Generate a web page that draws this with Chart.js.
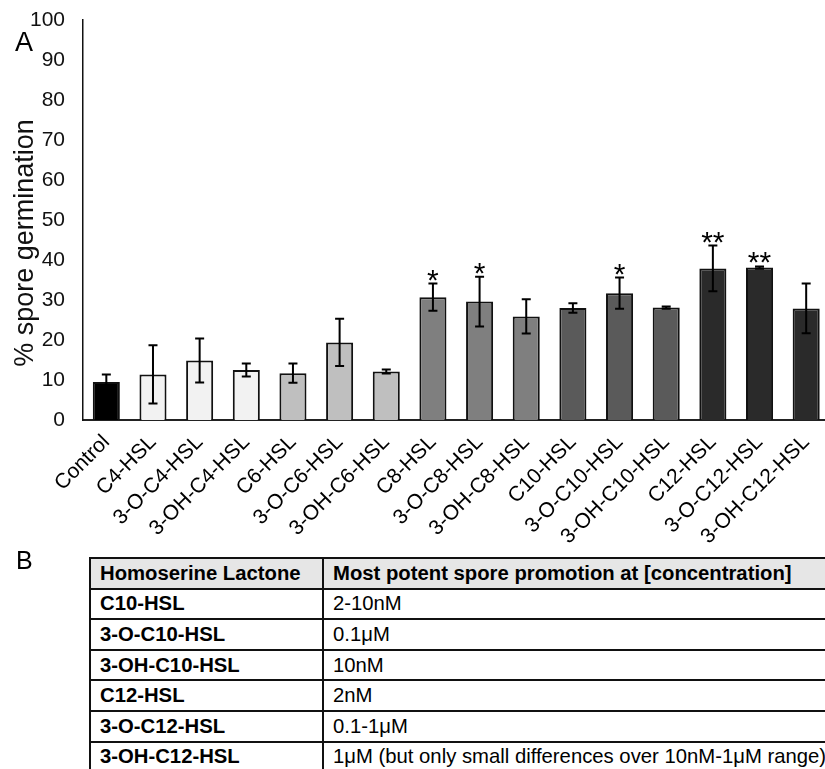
<!DOCTYPE html>
<html>
<head>
<meta charset="utf-8">
<script src="https://cdn.jsdelivr.net/npm/chart.js@4.4.1/dist/chart.umd.min.js"></script>
<style>
  html, body { margin: 0; padding: 0; background: #fff; overflow: hidden; width: 825px; height: 769px; }
  body { position: relative; font-family: "Liberation Sans", Arial, sans-serif; color: #000; }
  #wrap { position: absolute; left: 0; top: 0; width: 834px; height: 545px; }
  .panel { position: absolute; font-size: 27px; line-height: 1; }
  #lblA { left: 15px; top: 29px; }
  #lblB { left: 16px; top: 548px; font-size: 25px; }
  table { position: absolute; left: 89px; top: 557px; width: 780px; table-layout: fixed; border-collapse: collapse; font-size: 20.3px; }
  td { border: 2px solid #111; height: 28.6px; padding: 0 0 0 9px; white-space: nowrap; overflow: visible; }
  td.c1 { width: 222px; font-weight: bold; }
  tr.head td { background: #e6e6e6; font-weight: bold; }
</style>
</head>
<body>
<div id="wrap"><canvas id="chart"></canvas></div>
<div class="panel" id="lblA">A</div>
<div class="panel" id="lblB">B</div>
<table id="tbl"></table>
<script>
const labels = ['Control', 'C4-HSL', '3-O-C4-HSL', '3-OH-C4-HSL', 'C6-HSL', '3-O-C6-HSL', '3-OH-C6-HSL',
  'C8-HSL', '3-O-C8-HSL', '3-OH-C8-HSL', 'C10-HSL', '3-O-C10-HSL', '3-OH-C10-HSL',
  'C12-HSL', '3-O-C12-HSL', '3-OH-C12-HSL'];
const means = [9.5, 11.4, 14.9, 12.5, 11.7, 19.4, 12.1, 30.7, 29.6, 25.9, 28.0, 31.7, 28.1, 37.9, 38.1, 27.9];
const errs = [1.9, 7.3, 5.5, 1.6, 2.4, 5.9, 0.5, 3.4, 6.2, 4.3, 1.2, 3.9, 0.3, 5.7, 0.3, 6.2];
const stars = ['', '', '', '', '', '', '', '*', '*', '', '', '*', '', '**', '**', ''];
const yTicks = [0, 10, 20, 30, 40, 50, 60, 70, 80, 90, 100];
const yTitle = '% spore germination';

const tableHead = ['Homoserine Lactone', 'Most potent spore promotion at [concentration]'];
const tableLactones = ['C10-HSL', '3-O-C10-HSL', '3-OH-C10-HSL', 'C12-HSL', '3-O-C12-HSL', '3-OH-C12-HSL'];
const tableConc = ['2-10nM', '0.1μM', '10nM', '2nM', '0.1-1μM', '1μM (but only small differences over 10nM-1μM range)'];

// fill shade per group of chain length
const shades = ['#000000', '#f2f2f2', '#f2f2f2', '#f2f2f2', '#bfbfbf', '#bfbfbf', '#bfbfbf',
  '#7f7f7f', '#7f7f7f', '#7f7f7f', '#5a5a5a', '#5a5a5a', '#5a5a5a', '#2a2a2a', '#2a2a2a', '#2a2a2a'];

const font = '"Liberation Sans", Arial, sans-serif';

const errorBars = {
  id: 'errorBars',
  afterDatasetsDraw(chart) {
    const ctx = chart.ctx;
    const y = chart.scales.y;
    const meta = chart.getDatasetMeta(0);
    ctx.save();
    ctx.strokeStyle = '#000';
    ctx.lineWidth = 2;
    meta.data.forEach((bar, i) => {
      const top = y.getPixelForValue(means[i] + errs[i]);
      const bot = y.getPixelForValue(means[i] - errs[i]);
      ctx.beginPath();
      ctx.moveTo(bar.x, top); ctx.lineTo(bar.x, bot);
      ctx.moveTo(bar.x - 4.5, top); ctx.lineTo(bar.x + 4.5, top);
      ctx.moveTo(bar.x - 4.5, bot); ctx.lineTo(bar.x + 4.5, bot);
      ctx.stroke();
      if (stars[i]) {
        ctx.fillStyle = '#000';
        ctx.font = '30px ' + font;
        ctx.textAlign = 'center';
        ctx.textBaseline = 'alphabetic';
        ctx.fillText(stars[i], bar.x, top + 6);
      }
    });
    // y axis title, sits a bit below the middle of the axis like the original
    const area = chart.chartArea;
    ctx.translate(26, (area.top + area.bottom) / 2 + 23);
    ctx.rotate(-Math.PI / 2);
    ctx.fillStyle = '#111';
    ctx.font = '27px ' + font;
    ctx.textAlign = 'center';
    ctx.textBaseline = 'middle';
    ctx.fillText(yTitle, 0, 0);
    ctx.restore();
  }
};

new Chart(document.getElementById('chart'), {
  type: 'bar',
  data: {
    labels: labels,
    datasets: [{
      data: means,
      backgroundColor: shades,
      borderColor: '#111',
      borderWidth: 2,
      barPercentage: 0.58,
      categoryPercentage: 1
    }]
  },
  options: {
    responsive: true,
    maintainAspectRatio: false,
    animation: false,
    layout: { padding: { left: 9, top: 20, right: 0, bottom: 0 } },
    plugins: { legend: { display: false }, tooltip: { enabled: false } },
    scales: {
      x: {
        grid: { display: false, drawTicks: false },
        border: { color: '#222', width: 2 },
        ticks: { color: '#000', font: { family: font, size: 21 }, maxRotation: 45, minRotation: 45, padding: 10, autoSkip: false },
        afterFit(scale) { scale.height = 125; }
      },
      y: {
        min: 0, max: 100,
        grid: { display: false, drawTicks: false },
        border: { color: '#111', width: 1.5 },
        afterBuildTicks(scale) { scale.ticks = yTicks.map(v => ({ value: v })); },
        ticks: { color: '#111', font: { family: font, size: 21 }, padding: 18 },
        afterFit(scale) { scale.width = 74; scale.paddingTop = 10; scale.paddingBottom = 0; }
      }
    }
  },
  plugins: [errorBars]
});

const tbl = document.getElementById('tbl');
const addRow = (cells, cls) => {
  const tr = document.createElement('tr');
  if (cls) tr.className = cls;
  cells.forEach((c, j) => {
    const td = document.createElement('td');
    td.textContent = c;
    if (j === 0) td.className = 'c1';
    tr.appendChild(td);
  });
  tbl.appendChild(tr);
};
addRow(tableHead, 'head');
tableLactones.forEach((l, i) => addRow([l, tableConc[i]]));
</script>
</body>
</html>
